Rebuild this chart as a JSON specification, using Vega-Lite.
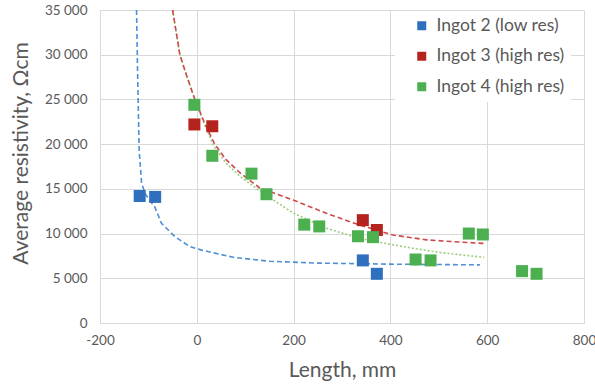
{
  "$schema": "https://vega.github.io/schema/vega-lite/v6.json",
  "width": 484,
  "height": 313,
  "autosize": {"type": "none"},
  "padding": {"left": 100, "top": 10, "right": 11, "bottom": 61},
  "background": "white",
  "config": {"view": {"stroke": null}, "font": "Lato"},
  "datasets": {
    "pts": [
      {"series": "Ingot 2 (low res)", "x": -118, "y": 14200},
      {"series": "Ingot 2 (low res)", "x": -86, "y": 14100},
      {"series": "Ingot 2 (low res)", "x": 343, "y": 7000},
      {"series": "Ingot 2 (low res)", "x": 372, "y": 5500},
      {"series": "Ingot 3 (high res)", "x": -5, "y": 22200},
      {"series": "Ingot 3 (high res)", "x": 32, "y": 22000},
      {"series": "Ingot 3 (high res)", "x": 343, "y": 11500},
      {"series": "Ingot 3 (high res)", "x": 372, "y": 10400},
      {"series": "Ingot 4 (high res)", "x": -5, "y": 24400},
      {"series": "Ingot 4 (high res)", "x": 32, "y": 18700},
      {"series": "Ingot 4 (high res)", "x": 113, "y": 16700},
      {"series": "Ingot 4 (high res)", "x": 144, "y": 14400},
      {"series": "Ingot 4 (high res)", "x": 222, "y": 11000},
      {"series": "Ingot 4 (high res)", "x": 253, "y": 10800},
      {"series": "Ingot 4 (high res)", "x": 333, "y": 9700},
      {"series": "Ingot 4 (high res)", "x": 364, "y": 9600},
      {"series": "Ingot 4 (high res)", "x": 452, "y": 7100},
      {"series": "Ingot 4 (high res)", "x": 483, "y": 7000},
      {"series": "Ingot 4 (high res)", "x": 562, "y": 10000},
      {"series": "Ingot 4 (high res)", "x": 591, "y": 9900},
      {"series": "Ingot 4 (high res)", "x": 672, "y": 5800},
      {"series": "Ingot 4 (high res)", "x": 702, "y": 5500}
    ],
    "trend": [
      {"curve": "blue", "x": -124.5, "y": 35000},
      {"curve": "blue", "x": -122, "y": 27000},
      {"curve": "blue", "x": -119, "y": 19200},
      {"curve": "blue", "x": -114, "y": 15600},
      {"curve": "blue", "x": -106, "y": 14400},
      {"curve": "blue", "x": -97, "y": 13700},
      {"curve": "blue", "x": -87, "y": 13000},
      {"curve": "blue", "x": -73, "y": 11150},
      {"curve": "blue", "x": -45, "y": 9650},
      {"curve": "blue", "x": -14, "y": 8530},
      {"curve": "blue", "x": 10, "y": 8150},
      {"curve": "blue", "x": 75, "y": 7350},
      {"curve": "blue", "x": 150, "y": 6900},
      {"curve": "blue", "x": 250, "y": 6700},
      {"curve": "blue", "x": 400, "y": 6580},
      {"curve": "blue", "x": 585, "y": 6500},
      {"curve": "red", "x": -50, "y": 35000},
      {"curve": "red", "x": -35, "y": 30000},
      {"curve": "red", "x": -20, "y": 27500},
      {"curve": "red", "x": -4, "y": 25000},
      {"curve": "red", "x": 15, "y": 22500},
      {"curve": "red", "x": 37, "y": 20000},
      {"curve": "red", "x": 60, "y": 18300},
      {"curve": "red", "x": 89, "y": 16800},
      {"curve": "red", "x": 130, "y": 15100},
      {"curve": "red", "x": 199, "y": 13750},
      {"curve": "red", "x": 268, "y": 12260},
      {"curve": "red", "x": 336, "y": 10960},
      {"curve": "red", "x": 405, "y": 9840},
      {"curve": "red", "x": 474, "y": 9300},
      {"curve": "red", "x": 543, "y": 9050},
      {"curve": "red", "x": 594, "y": 8900},
      {"curve": "green", "x": -50, "y": 35000},
      {"curve": "green", "x": -35, "y": 30000},
      {"curve": "green", "x": -20, "y": 27500},
      {"curve": "green", "x": -4, "y": 25000},
      {"curve": "green", "x": 15, "y": 22300},
      {"curve": "green", "x": 35, "y": 19800},
      {"curve": "green", "x": 60, "y": 17900},
      {"curve": "green", "x": 89, "y": 16400},
      {"curve": "green", "x": 137, "y": 14500},
      {"curve": "green", "x": 199, "y": 12300},
      {"curve": "green", "x": 268, "y": 10600},
      {"curve": "green", "x": 336, "y": 9470},
      {"curve": "green", "x": 405, "y": 8750},
      {"curve": "green", "x": 447, "y": 8350},
      {"curve": "green", "x": 500, "y": 7900},
      {"curve": "green", "x": 550, "y": 7600},
      {"curve": "green", "x": 594, "y": 7340}
    ]
  },
  "encoding": {
    "x": {
      "field": "x", "type": "quantitative",
      "scale": {"domain": [-200, 800], "nice": false, "zero": false},
      "axis": {
        "values": [-200, 0, 200, 400, 600, 800],
        "labelExpr": "datum.value + ''",
        "labelFlush": false,
        "title": "Length, mm",
        "grid": true, "gridColor": "#d9d9d9", "gridWidth": 1,
        "domainColor": "#d9d9d9", "ticks": false,
        "labelColor": "#595959", "labelFontSize": 13.5, "labelPadding": 10,
        "labelFont": "Lato",
        "titleColor": "#595959", "titleFontSize": 21, "titleFontWeight": "normal",
        "titleFont": "Lato", "titlePadding": 13
      }
    },
    "y": {
      "field": "y", "type": "quantitative",
      "scale": {"domain": [0, 35000], "nice": false},
      "axis": {
        "values": [0, 5000, 10000, 15000, 20000, 25000, 30000, 35000],
        "labelExpr": "replace(format(datum.value, ','), ',', ' ')",
        "title": "Average resistivity, Ωcm",
        "grid": true, "gridColor": "#d9d9d9", "gridWidth": 1,
        "domainColor": "#d9d9d9", "ticks": false,
        "labelColor": "#595959", "labelFontSize": 13.5, "labelPadding": 13,
        "labelFont": "Lato",
        "titleColor": "#595959", "titleFontSize": 21, "titleFontWeight": "normal",
        "titleFont": "Lato", "titleX": -69, "titleY": 143
      }
    }
  },
  "layer": [
    {
      "data": {"name": "trend"},
      "transform": [{"filter": "datum.curve === 'blue'"}],
      "mark": {"type": "line", "color": "#4f8fd6", "strokeWidth": 1.6, "strokeDash": [5, 3]}
    },
    {
      "data": {"name": "trend"},
      "transform": [{"filter": "datum.curve === 'green'"}],
      "mark": {"type": "line", "color": "#9ccc7e", "strokeWidth": 1.6, "strokeDash": [2, 2]}
    },
    {
      "data": {"name": "trend"},
      "transform": [{"filter": "datum.curve === 'red'"}],
      "mark": {"type": "line", "color": "#d04848", "strokeWidth": 1.6, "strokeDash": [5, 3]}
    },
    {
      "data": {"name": "pts"},
      "mark": {"type": "square", "size": 144, "opacity": 1, "filled": true},
      "encoding": {
        "color": {
          "field": "series", "type": "nominal",
          "scale": {
            "domain": ["Ingot 2 (low res)", "Ingot 3 (high res)", "Ingot 4 (high res)"],
            "range": ["#2e6fbe", "#b5231e", "#4caf50"]
          },
          "legend": {
            "title": null, "orient": "none", "legendX": 295, "legendY": 1,
            "fillColor": "white", "padding": 6, "symbolOffset": 12,
            "symbolType": "square", "symbolSize": 81, "symbolOpacity": 1,
            "labelFontSize": 17.5, "labelColor": "#595959", "labelFont": "Lato",
            "labelOffset": 6, "rowPadding": 11.5
          }
        }
      }
    }
  ]
}
